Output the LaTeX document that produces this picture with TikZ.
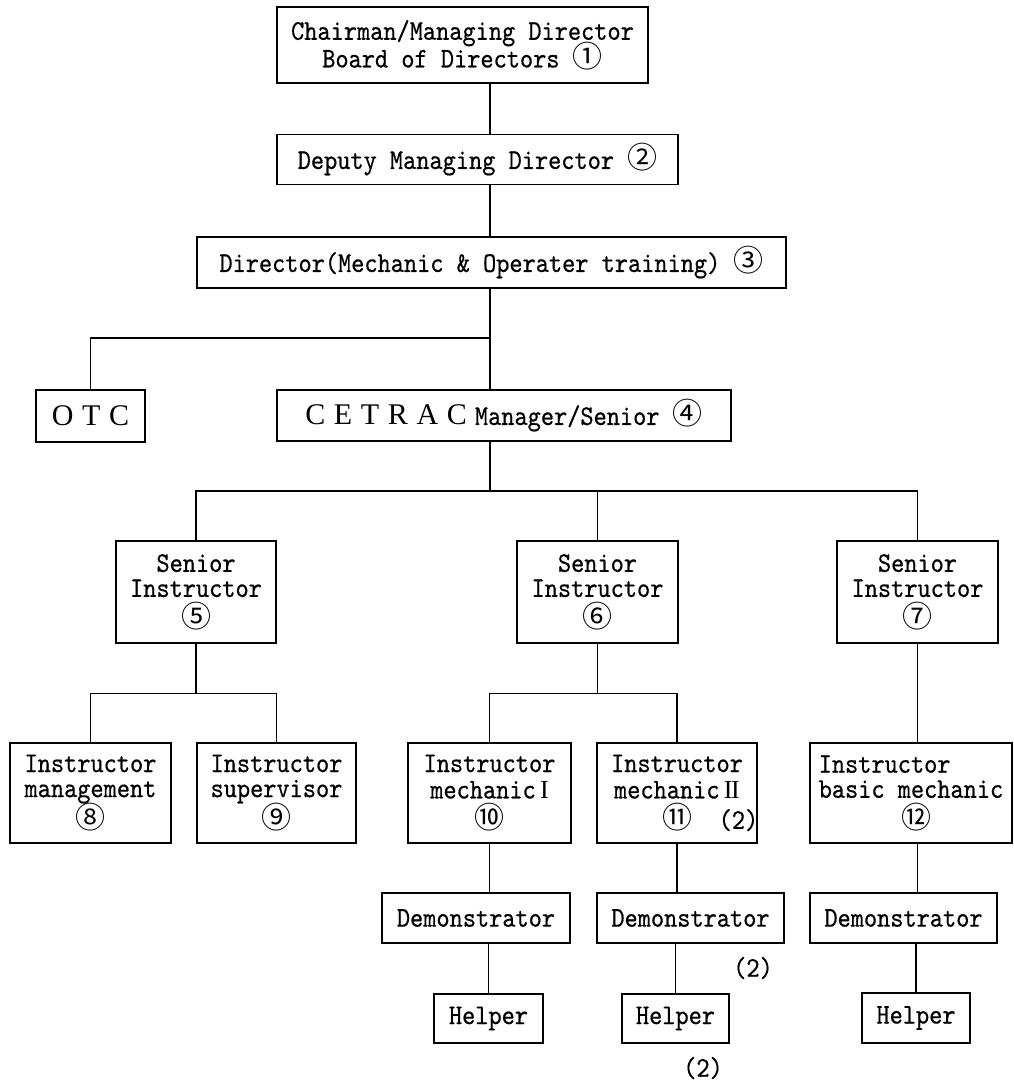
\documentclass[tikz,border=0pt]{standalone}
\usepackage{fontspec}
% condensed monospaced serif for the labels, serif capitals, CJK font for circled numbers
\newfontfamily\mincho{lmmono10-regular.otf}[FakeStretch=0.88, FakeBold=0.5]
\newfontfamily\romanfont{Liberation Serif}
\newfontfamily\cjk{Noto Sans CJK JP}
\newcommand\mtext{\mincho\fontsize{21.4}{18.8}\selectfont\lineskiplimit=-30pt\relax}
\newcommand\cnum[1]{{\cjk\fontsize{22.5}{18.8}\selectfont #1}}
\newcommand\caps[1]{{\romanfont\fontsize{22.5}{18.8}\selectfont #1}}
\newcommand\numeral[1]{{\romanfont\fontsize{19.5}{18.8}\selectfont #1}}
\newcommand\gap{\hspace{6.5pt}}
\newcommand\romI{\numeral{\,I}}
\newcommand\romII{\numeral{\,I\kern-1pt I}}
\tikzset{
  box/.style={draw, line width=0.9pt, inner sep=0pt, align=center, font=\mtext},
  sz/.style 2 args={minimum width=#1*0.75pt, minimum height=#2*0.75pt},
  link/.style={line width=1pt},
  lbl/.style={inner sep=0pt, font=\mtext}
}
\begin{document}
\begin{tikzpicture}[x=0.75pt, y=-0.75pt]
\fill[white] (0,0) rectangle (1014,1083);
\useasboundingbox (0,0) rectangle (1014,1083);

% top of the chart
\node[box, sz={371}{76}] (n1) at (462.5,45) {Chairman/Managing Director\\[2pt]Board of Directors \cnum{①}};
\node[box, sz={401}{50}] (n2) at (477.5,159.5) {Deputy Managing Director \cnum{②}};
\node[box, sz={589}{51}] (n3) at (491.5,262.5) {Director(Mechanic \& Operater training) \cnum{③}};
\node[box, sz={109}{52}] (otc) at (90.5,416) {\caps{O\gap T\gap C}};
\node[box, sz={454}{51}] (n4) at (504,415.5) {\caps{C\gap E\gap T\gap R\gap A\gap C}\hspace{6pt}Manager/Senior \cnum{④}};

% senior instructors
\node[box, sz={160}{102}] (s5) at (196,592) {Senior\\Instructor\\[4pt]\cnum{⑤}};
\node[box, sz={161}{102}] (s6) at (597.5,592) {Senior\\Instructor\\[4pt]\cnum{⑥}};
\node[box, sz={161}{102}] (s7) at (917.5,592) {Senior\\Instructor\\[4pt]\cnum{⑦}};

% instructors
\node[box, sz={161}{100}] (b8) at (90.5,793) {Instructor\\management\\[5pt]\cnum{⑧}};
\node[box, sz={159}{100}] (b9) at (276.5,793) {Instructor\\supervisor\\[5pt]\cnum{⑨}};
\node[box, sz={163}{100}] (b10) at (489.5,793) {Instructor\\[1pt]mechanic\romI\\[4pt]\cnum{⑩}};
\node[box, sz={160}{100}] (b11) at (677,793) {Instructor\\[1pt]mechanic\romII\\[4pt]\cnum{⑪}\rlap{\hspace{20pt}(2)}};
\node[box, sz={202}{100}, align=left] (b12) at (911,793) {Instructor\\basic mechanic\\[4pt]\hspace*{62pt}\cnum{⑫}};

% demonstrators and helpers
\node[box, sz={188}{50}] (d1) at (476,918) {Demonstrator};
\node[box, sz={187}{50}] (d2) at (690.5,918) {Demonstrator};
\node[box, sz={187}{50}] (d3) at (903.5,918) {Demonstrator};
\node[box, sz={109}{49}] (h1) at (488.5,1018.5) {Helper};
\node[box, sz={107}{49}] (h2) at (675.5,1018.5) {Helper};
\node[box, sz={108}{50}] (h3) at (916,1018) {Helper};

\node[lbl] (q1) at (753,968) {(2)};
\node[lbl] (q2) at (703,1068) {(2)};

% connectors
\coordinate (tr) at (490,0);
\coordinate (jotc) at (490,338);
\coordinate (jsen) at (490,491);
\draw[link] (n1.south -| tr) -- (n2.north -| tr);
\draw[link] (n2.south -| tr) -- (n3.north -| tr);
\draw[link] (n3.south -| tr) -- (n4.north -| tr);
\draw[link] (jotc) -| (otc.north);
\draw[link] (n4.south -| tr) -- (jsen);
\draw[link] (s5.north) |- (jsen) -| (s7.north);
\draw[link] (jsen -| s6.north) -- (s6.north);

\draw[link] (s5.south) -- ++(0,50) coordinate (j5);
\draw[link] (b8.north) |- (j5) -| (b9.north);
\draw[link] (s6.south) -- ++(0,50) coordinate (j6);
\draw[link] (b10.north) |- (j6) -| (b11.north);
\draw[link] (s7.south) -- (s7.south |- b12.north);

\draw[link] (b10.south) -- (b10.south |- d1.north);
\draw[link] (d1.south -| h1.north) -- (h1.north);
\draw[link] (b11.south) -- (b11.south |- d2.north);
\draw[link] (d2.south -| h2.north) -- (h2.north);
\draw[link] (b12.south -| s7.south) -- (d3.north -| s7.south);
\draw[link] (d3.south -| h3.north) -- (h3.north);
\end{tikzpicture}
\end{document}
